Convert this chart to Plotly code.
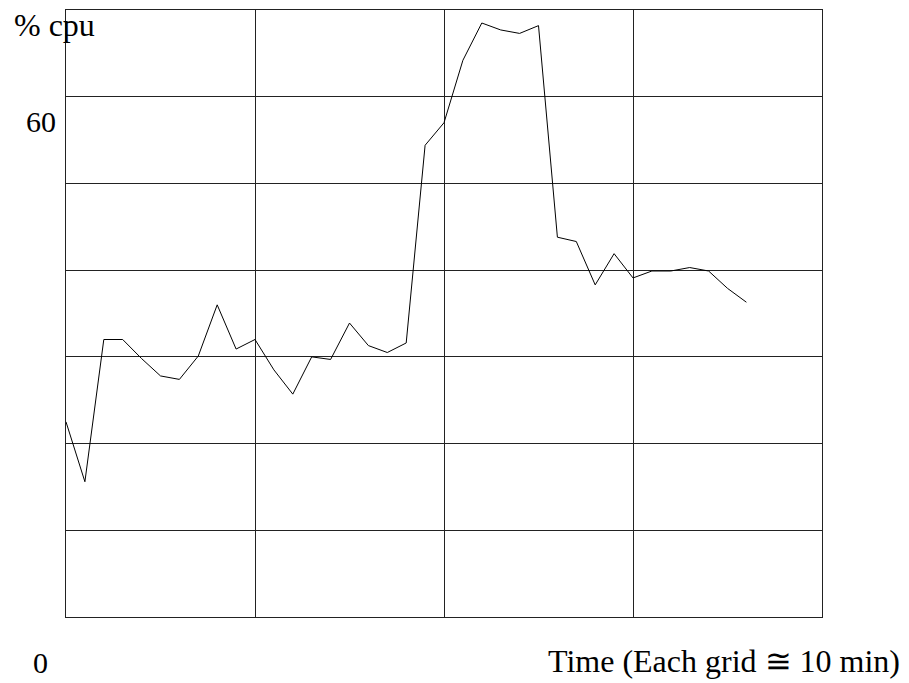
import plotly.graph_objects as go

# CPU load sampled once a minute
minutes = list(range(37))
cpu_pct = [22.5, 15.6, 32.0, 32.0, 29.8, 27.8, 27.4, 30.1, 36.0, 30.9,
           32.0, 28.5, 25.7, 30.0, 29.7, 33.9, 31.3, 30.5, 31.6, 54.4,
           57.0, 64.2, 68.5, 67.7, 67.3, 68.2, 43.8, 43.3, 38.3, 41.9,
           39.1, 39.9, 39.9, 40.3, 39.9, 37.9, 36.3]

x_range = [0, 40]
y_range = [0, 70]
grid_step_x = 10
grid_step_y = 10

FONT = "Liberation Serif"
TXT = dict(family=FONT, size=30, color="black")
TXT_WIDE = dict(family=FONT, size=32, color="black")

fig = go.Figure()
fig.add_trace(go.Scatter(x=minutes, y=cpu_pct, mode="lines",
                         line=dict(color="black", width=1), hoverinfo="skip"))

axis_common = dict(showgrid=True, gridcolor="#222", gridwidth=1,
                   showline=True, linecolor="#222", linewidth=1, mirror=True,
                   showticklabels=False, ticks="", zeroline=False, fixedrange=True)
fig.update_xaxes(range=x_range, dtick=grid_step_x, tick0=0, **axis_common)
fig.update_yaxes(range=y_range, dtick=grid_step_y, tick0=0, **axis_common)

fig.add_annotation(text="% cpu", xref="paper", yref="paper", x=-0.0714, y=0.975,
                   xanchor="left", yanchor="middle", showarrow=False, font=TXT_WIDE)
fig.add_annotation(text="60", xref="paper", yref="y", x=-0.0106, y=60, yshift=-25,
                   xanchor="right", yanchor="middle", showarrow=False, font=TXT)
fig.add_annotation(text="0", xref="paper", yref="y", x=-0.034, y=0, yshift=-45,
                   xanchor="center", yanchor="middle", showarrow=False, font=TXT)
fig.add_annotation(text="Time (Each grid \u2245 10 min)", xref="paper", yref="y",
                   x=1.106, y=0, yshift=-44, xanchor="right", yanchor="middle",
                   showarrow=False, font=TXT_WIDE)

fig.update_layout(width=909, height=683, margin=dict(l=66, r=87, t=10, b=66),
                  plot_bgcolor="white", paper_bgcolor="white", showlegend=False)

fig.write_html("out.html")
